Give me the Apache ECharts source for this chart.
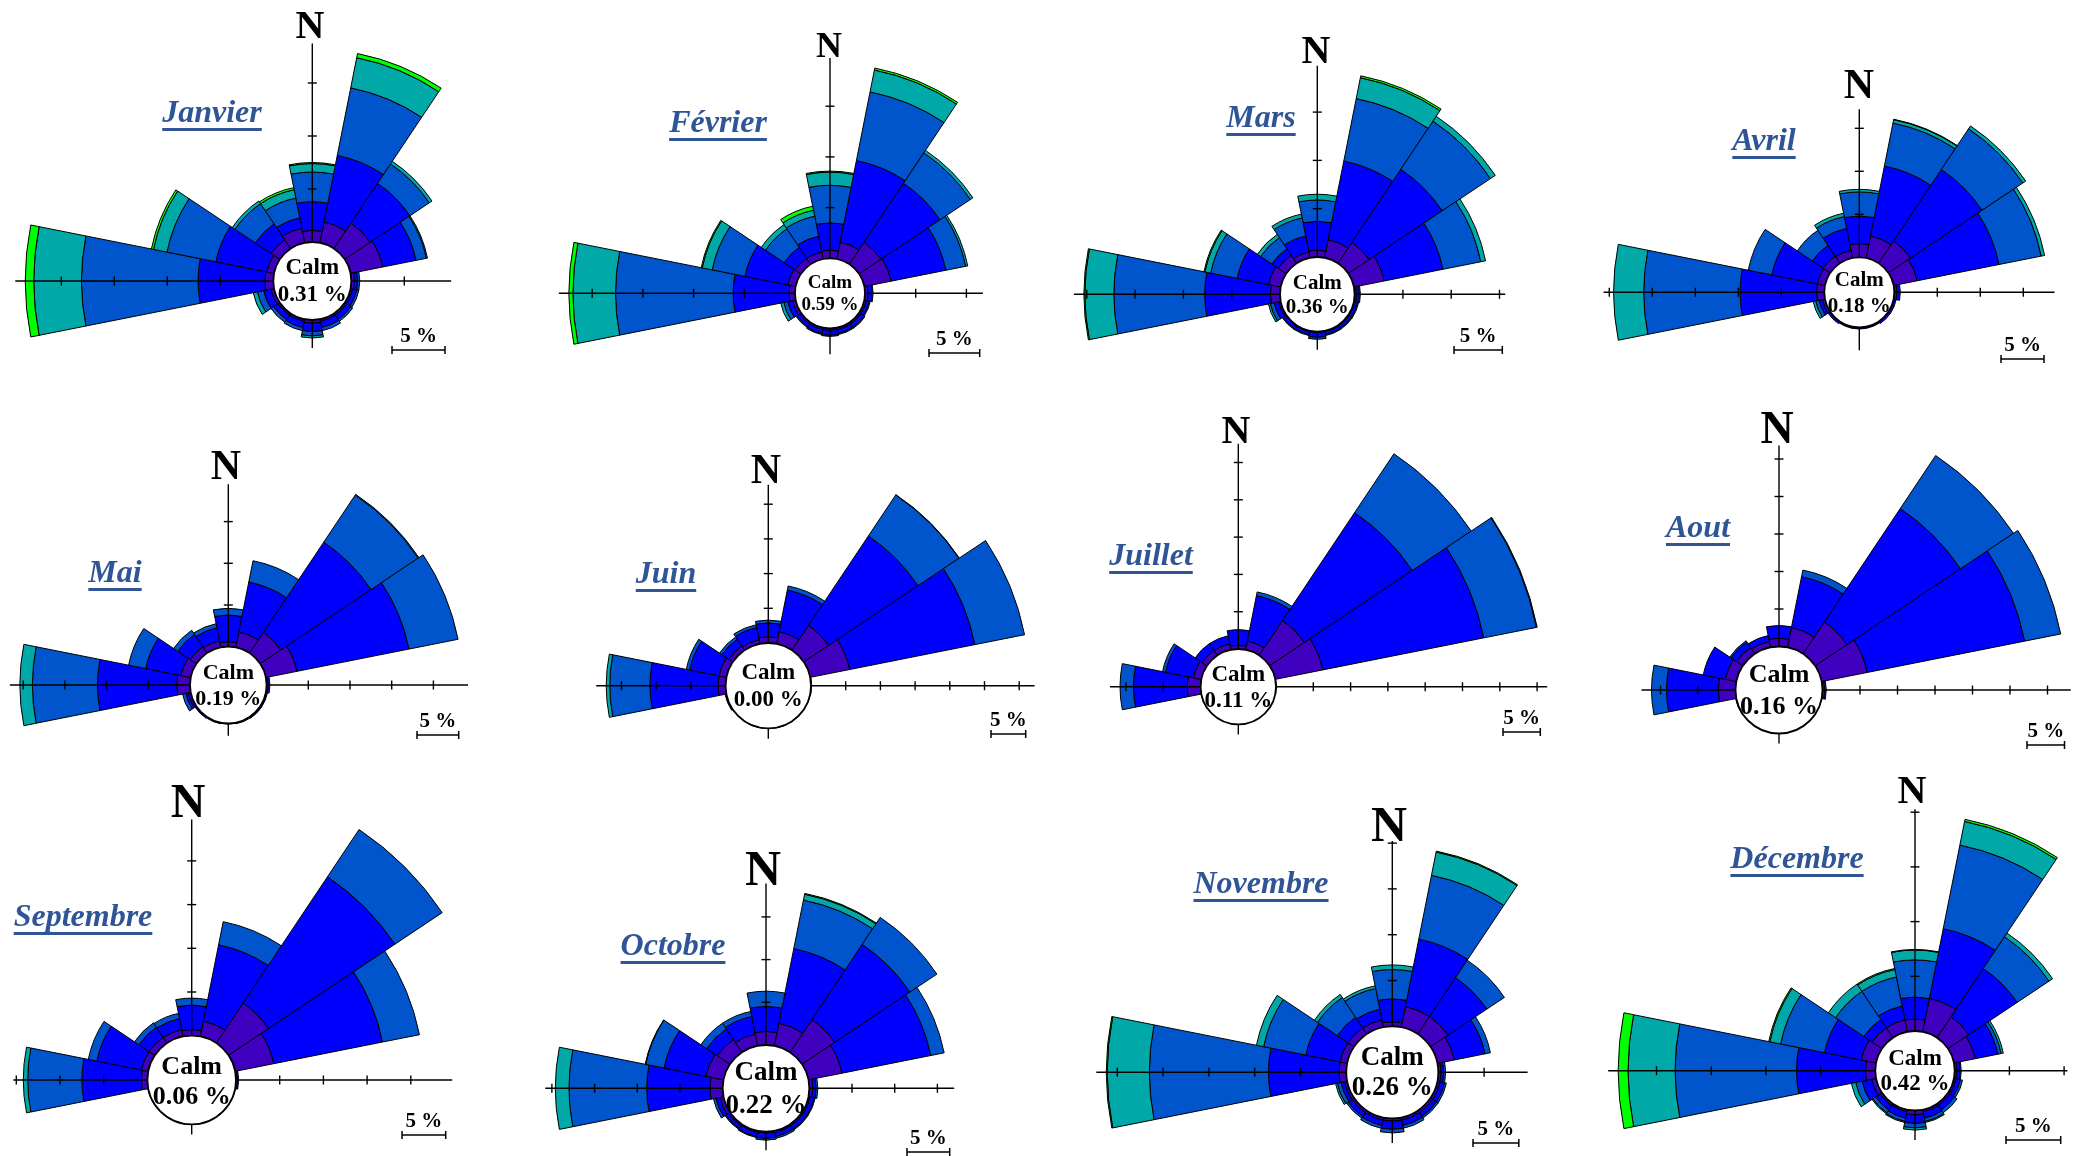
<!DOCTYPE html>
<html>
<head>
<meta charset="utf-8">
<script src="https://cdn.jsdelivr.net/npm/echarts@6/dist/echarts.min.js"></script>
<style>
  html, body { margin: 0; padding: 0; background: #fff; }
  #chart { width: 2089px; height: 1156px; }
</style>
</head>
<body>
<div id="chart"></div>
<script>
// Wind direction sectors (16 x 22.5°), clockwise from north
const directions = ['N', 'NNE', 'NE', 'ENE', 'E', 'ESE', 'SE', 'SSE', 'S', 'SSW', 'SW', 'WSW', 'W', 'WNW', 'NW', 'NNW'];
// Wind speed classes, innermost first
const speedClasses = ['Classe 1', 'Classe 2', 'Classe 3', 'Classe 4', 'Classe 5'];
const months = ['Janvier', 'Février', 'Mars', 'Avril', 'Mai', 'Juin', 'Juillet', 'Aout', 'Septembre', 'Octobre', 'Novembre', 'Décembre'];
// Calm frequency (%) per month
const calm = [0.31, 0.59, 0.36, 0.18, 0.19, 0.00, 0.11, 0.16, 0.06, 0.22, 0.26, 0.42];
// Radial tick spacing (%)
const tickStep = 5;

// Frequency (%) per direction, split by speed class
const janvier = [
  [1.1, 2.7, 2.8, 0.8, 0.1], [2.0, 6.4, 6.5, 2.9, 0.4], [2.9, 4.5, 2.2, 0.3, 0], [3.1, 3.2, 1.0, 0.1, 0],
  [0.3, 0.3, 0.2, 0, 0], [0.2, 0.4, 0.2, 0, 0], [0.2, 0.5, 0.2, 0, 0], [0.2, 0.6, 0.3, 0, 0],
  [0.3, 0.8, 0.4, 0.2, 0], [0.2, 0.6, 0.3, 0, 0], [0.2, 0.5, 0.3, 0, 0], [0.3, 0.7, 0.6, 0.4, 0],
  [0.8, 6.3, 11.0, 4.5, 0.8], [0.7, 4.9, 4.7, 1.3, 0.2], [1.0, 1.8, 2.3, 0.3, 0], [1.4, 1.0, 1.9, 0.8, 0.2]
];
const fevrier = [
  [0.8, 2.7, 3.7, 1.3, 0.1], [1.7, 8.2, 6.9, 2.2, 0.2], [2.6, 7.0, 3.6, 0.3, 0], [2.7, 5.5, 2.0, 0.2, 0],
  [0.3, 0.4, 0.1, 0, 0], [0.2, 0.3, 0.1, 0, 0], [0.2, 0.4, 0.1, 0, 0], [0.2, 0.4, 0.1, 0, 0],
  [0.2, 0.5, 0.1, 0, 0], [0.2, 0.4, 0.1, 0, 0], [0.2, 0.3, 0.1, 0, 0], [0.3, 0.5, 0.4, 0.3, 0],
  [0.6, 5.5, 11.6, 4.2, 0.4], [0.8, 4.3, 3.3, 1.0, 0.1], [0.7, 1.3, 2.2, 0.5, 0], [0.7, 1.6, 2.0, 0.6, 0.4]
];
const mars = [
  [0.7, 3.0, 2.2, 0.6, 0], [1.9, 8.3, 6.6, 2.2, 0.2], [2.6, 9.1, 6.0, 0.6, 0], [3.2, 6.2, 4.0, 0.5, 0],
  [0.2, 0.3, 0.1, 0, 0], [0.1, 0.3, 0.1, 0, 0], [0.1, 0.3, 0.1, 0, 0], [0.1, 0.3, 0.1, 0, 0],
  [0.1, 0.5, 0.2, 0, 0], [0.1, 0.3, 0.1, 0, 0], [0.1, 0.3, 0.1, 0, 0], [0.2, 0.5, 0.4, 0.2, 0],
  [1.0, 6.8, 9.4, 3.0, 0.1], [1.3, 3.3, 2.8, 0.6, 0.1], [1.0, 0.8, 1.4, 0.4, 0], [0.6, 1.7, 1.9, 0.4, 0]
];
const avril = [
  [1.6, 3.2, 2.8, 0.3, 0], [2.6, 8.3, 5.1, 0.4, 0.05], [3.1, 10.0, 5.7, 0.4, 0], [2.8, 9.7, 5.0, 0.4, 0],
  [0.3, 0.4, 0, 0, 0], [0.1, 0.2, 0, 0, 0], [0.1, 0.2, 0, 0, 0], [0.1, 0.1, 0, 0, 0],
  [0.1, 0.1, 0, 0, 0], [0.1, 0.1, 0, 0, 0], [0.1, 0.2, 0, 0, 0], [0.3, 0.4, 0.4, 0.3, 0],
  [0.9, 8.9, 11.2, 3.5, 0], [0.9, 5.4, 2.8, 0, 0], [1.0, 1.5, 2.1, 0, 0], [0.9, 2.6, 1.4, 0.4, 0]
];
const mai = [
  [0.6, 3.2, 0.8, 0, 0], [1.9, 6.1, 2.6, 0, 0], [3.0, 13.0, 6.8, 0.1, 0], [3.8, 13.7, 6.0, 0, 0],
  [0.2, 0.2, 0, 0, 0], [0.1, 0.1, 0, 0, 0], [0.1, 0.1, 0, 0, 0], [0.05, 0.1, 0, 0, 0],
  [0.05, 0.05, 0, 0, 0], [0.05, 0.1, 0, 0, 0], [0.1, 0.1, 0, 0, 0], [0.3, 0.3, 0.4, 0, 0],
  [1.6, 9.5, 7.8, 1.5, 0], [1.2, 4.3, 2.1, 0, 0], [0.9, 1.8, 0.6, 0, 0], [0.8, 1.6, 0.5, 0, 0]
];
const juin = [
  [0.9, 2.0, 0.4, 0, 0], [1.8, 6.1, 0.6, 0, 0], [4.3, 15.5, 7.1, 0.05, 0], [5.8, 18.4, 7.3, 0, 0],
  [0.1, 0, 0, 0, 0], [0.05, 0, 0, 0, 0], [0.05, 0, 0, 0, 0], [0.05, 0, 0, 0, 0],
  [0.05, 0, 0, 0, 0], [0.05, 0, 0, 0, 0], [0.05, 0, 0, 0, 0], [0.1, 0.1, 0, 0, 0],
  [1.1, 9.8, 5.8, 0.5, 0], [1.1, 4.3, 0.5, 0, 0], [0.7, 1.2, 0.4, 0, 0], [0.6, 1.8, 0.4, 0, 0]
];
const juillet = [
  [0.5, 2.1, 0, 0, 0], [1.2, 6.2, 0.5, 0, 0], [5.6, 17.4, 9.5, 0, 0], [6.5, 22.0, 7.2, 0.1, 0],
  [0.05, 0, 0, 0, 0], [0, 0, 0, 0, 0], [0, 0, 0, 0, 0], [0, 0, 0, 0, 0],
  [0, 0, 0, 0, 0], [0, 0, 0, 0, 0], [0, 0, 0, 0, 0], [0.05, 0, 0, 0, 0],
  [1.8, 7.2, 1.8, 0, 0], [1.1, 3.8, 0.4, 0, 0], [0.8, 1.1, 0, 0, 0], [0.8, 1.1, 0, 0, 0]
];
const aout = [
  [1.1, 1.7, 0, 0, 0], [2.7, 6.9, 0.9, 0, 0], [5.1, 18.2, 8.5, 0, 0], [6.2, 21.4, 4.9, 0, 0],
  [0.3, 0.2, 0, 0, 0], [0, 0, 0, 0, 0], [0, 0, 0, 0, 0], [0, 0, 0, 0, 0],
  [0, 0, 0, 0, 0], [0, 0, 0, 0, 0], [0, 0, 0, 0, 0], [0.1, 0, 0, 0, 0],
  [2.3, 6.9, 2.0, 0, 0], [1.5, 3.0, 0, 0, 0], [1.0, 0.9, 0.2, 0, 0], [0.8, 0.8, 0, 0, 0]
];
const septembre = [
  [0.7, 2.8, 0.8, 0, 0], [1.8, 8.9, 2.7, 0, 0], [5.5, 17.4, 6.5, 0, 0], [4.5, 12.7, 4.3, 0, 0],
  [0.2, 0.1, 0, 0, 0], [0.03, 0, 0, 0, 0], [0.03, 0, 0, 0, 0], [0.03, 0, 0, 0, 0],
  [0.03, 0, 0, 0, 0], [0.03, 0, 0, 0, 0], [0.03, 0, 0, 0, 0], [0.05, 0, 0, 0, 0],
  [0.7, 6.8, 6.2, 0.5, 0], [0.8, 5.2, 1.0, 0, 0], [0.8, 1.4, 0.6, 0, 0], [0.8, 1.3, 0.6, 0, 0]
];
const octobre = [
  [1.6, 2.9, 1.8, 0, 0], [2.7, 8.9, 5.8, 0.7, 0.1], [4.6, 10.6, 3.8, 0, 0], [4.0, 10.6, 1.6, 0, 0],
  [0.4, 0.4, 0.2, 0, 0], [0.2, 0.5, 0.1, 0, 0], [0.2, 0.5, 0.1, 0, 0], [0.2, 0.5, 0.2, 0, 0],
  [0.2, 0.6, 0.2, 0, 0], [0.2, 0.5, 0.1, 0, 0], [0.2, 0.4, 0.1, 0, 0], [0.4, 0.5, 0.3, 0, 0],
  [1.5, 7.4, 9.1, 1.6, 0], [2.1, 5.0, 2.2, 0.05, 0], [1.8, 1.5, 0.8, 0, 0], [1.4, 2.1, 0.6, 0, 0]
];
const novembre = [
  [0.5, 2.5, 3.2, 0.5, 0], [2.3, 7.5, 7.1, 2.6, 0.1], [2.3, 5.1, 2.3, 0, 0], [1.9, 3.4, 0.6, 0, 0],
  [0.3, 0.3, 0.2, 0, 0], [0.3, 0.5, 0.2, 0, 0], [0.3, 0.5, 0.2, 0, 0], [0.3, 0.6, 0.3, 0, 0],
  [0.3, 0.9, 0.4, 0, 0], [0.3, 0.6, 0.3, 0, 0], [0.3, 0.5, 0.2, 0, 0], [0.3, 0.4, 0.4, 0.2, 0],
  [0.8, 7.7, 13.0, 4.6, 0.1], [0.8, 3.8, 4.7, 0.8, 0], [0.8, 1.4, 2.6, 0.4, 0], [0.8, 1.2, 2.3, 0.3, 0]
];
const decembre = [
  [1.1, 2.0, 3.4, 0.9, 0.05], [3.1, 6.5, 7.8, 2.2, 0.2], [2.3, 5.3, 3.5, 0.4, 0], [2.0, 2.1, 0.3, 0.2, 0],
  [0.2, 0.3, 0.1, 0, 0], [0.2, 0.4, 0.2, 0, 0], [0.2, 0.5, 0.3, 0, 0], [0.2, 0.6, 0.3, 0.1, 0],
  [0.4, 0.8, 0.4, 0.2, 0], [0.2, 0.6, 0.3, 0.1, 0], [0.2, 0.5, 0.3, 0.1, 0], [0.4, 0.9, 0.6, 0.4, 0],
  [0.9, 6.3, 11.1, 4.3, 0.9], [1.4, 3.4, 4.1, 1.0, 0.1], [1.1, 0.9, 3.1, 0.8, 0], [1.1, 1.3, 2.7, 0.7, 0.1]
];
const monthlyRoses = [janvier, fevrier, mars, avril, mai, juin, juillet, aout, septembre, octobre, novembre, decembre];

// ---- styling ----
const speedColors = ['#4000C0', '#0000FF', '#0055CC', '#00A8A8', '#00FF00'];
const SERIF = '"Liberation Serif", "Times New Roman", serif';
const titleColor = '#2F5597';

// Panel layout: rose centre, calm-circle radius, pixels per 5 %, and text placement
const layout = [
  { c: [312.3, 281.0], r0: 39.0, k5: 53.0, title: [212, 114], n: [310, 28, 40], calmFont: 23, calmDy: [-13, 14], bar: [392, 350] },
  { c: [830.0, 293.3], r0: 35.0, k5: 50.7, title: [718, 124], n: [829, 48, 36], calmFont: 19, calmDy: [-10, 12], bar: [929, 353] },
  { c: [1317.3, 294.3], r0: 37.3, k5: 48.3, title: [1261, 119], n: [1316, 53, 40], calmFont: 21, calmDy: [-11, 13], bar: [1454, 350] },
  { c: [1859.3, 292.3], r0: 35.0, k5: 43.0, title: [1764, 142], n: [1859, 87, 42], calmFont: 21, calmDy: [-12, 14], bar: [2001, 359] },
  { c: [228.3, 685.0], r0: 38.3, k5: 41.7, title: [115, 574], n: [226, 468, 42], calmFont: 22, calmDy: [-12, 14], bar: [417, 735] },
  { c: [768.3, 685.7], r0: 42.7, k5: 34.7, title: [666, 575], n: [766, 472, 42], calmFont: 23, calmDy: [-13, 14], bar: [991, 734] },
  { c: [1238.3, 686.7], r0: 37.7, k5: 37.3, title: [1151, 557], n: [1236, 433, 40], calmFont: 23, calmDy: [-12, 14], bar: [1503, 732] },
  { c: [1779.0, 690.0], r0: 43.5, k5: 37.5, title: [1698, 529], n: [1777, 431, 46], calmFont: 26, calmDy: [-15, 17], bar: [2027, 745] },
  { c: [191.7, 1080.0], r0: 44.3, k5: 43.7, title: [83, 918], n: [188, 805, 48], calmFont: 26, calmDy: [-13, 17], bar: [402, 1135] },
  { c: [766.0, 1088.3], r0: 43.3, k5: 42.7, title: [673, 947], n: [763, 872, 50], calmFont: 27, calmDy: [-15, 18], bar: [907, 1152] },
  { c: [1392.3, 1072.3], r0: 46.0, k5: 45.8, title: [1261, 885], n: [1389, 828, 50], calmFont: 27, calmDy: [-14, 16], bar: [1473, 1143] },
  { c: [1915.0, 1070.7], r0: 39.7, k5: 54.7, title: [1797, 860], n: [1912, 793, 40], calmFont: 23, calmDy: [-12, 13], bar: [2006, 1140] }
];

const RADIUS_MAX = 40; // radius-axis extent (%) mapped onto each polar

const measureCtx = document.createElement('canvas').getContext('2d');
function textWidth(str, font) { measureCtx.font = font; return measureCtx.measureText(str).width; }

// Cross-shaped axes with 5 % ticks, calm circle and calm label, drawn on the polar system
function makeAxisRenderer(rows, calmValue, lay) {
  return function (params, api) {
    const pN = api.coord([0, 0]);
    const pS = api.coord([0, 8]);
    const cx = (pN[0] + pS[0]) / 2, cy = (pN[1] + pS[1]) / 2;
    const r0 = Math.hypot(pN[0] - cx, pN[1] - cy);
    const p1 = api.coord([1, 0]);
    const k = Math.hypot(p1[0] - cx, p1[1] - cy) - r0;

    // bounding extent of the rose in the four compass directions: up, right, down, left
    const ext = [r0, r0, r0, r0];
    rows.forEach(function (row, i) {
      const total = row.reduce(function (s, v) { return s + v; }, 0);
      if (total <= 0) return;
      const R = r0 + total * k;
      const a1 = i * 22.5 - 11.25, a2 = i * 22.5 + 11.25;
      for (let d = 0; d < 4; d++) {
        const th = d * 90;
        const wrap = function (x) { return ((x - th) % 360 + 540) % 360 - 180; };
        const d1 = wrap(a1), d2 = wrap(a2);
        let reach;
        if (d1 <= 0 && d2 >= 0) reach = R;
        else reach = R * Math.max(Math.cos(d1 * Math.PI / 180), Math.cos(d2 * Math.PI / 180));
        if (reach > ext[d]) ext[d] = reach;
      }
    });

    const m = 10;
    const lineStyle = { stroke: '#000', lineWidth: 1.4 };
    const children = [];
    children.push({ type: 'line', shape: { x1: cx, y1: cy - ext[0] - m, x2: cx, y2: cy + ext[2] + m }, style: lineStyle });
    children.push({ type: 'line', shape: { x1: cx - ext[3] - m, y1: cy, x2: cx + ext[1] + m, y2: cy }, style: lineStyle });
    const unit = [[0, -1], [1, 0], [0, 1], [-1, 0]];
    for (let d = 0; d < 4; d++) {
      const ux = unit[d][0], uy = unit[d][1];
      for (let v = tickStep; r0 + v * k <= ext[d] + m + 0.5; v += tickStep) {
        const pt = api.coord([v, d * 4]);
        const r = Math.hypot(pt[0] - cx, pt[1] - cy);
        const px = cx + ux * r, py = cy + uy * r;
        children.push({ type: 'line', shape: { x1: px - uy * 4.5, y1: py + ux * 4.5, x2: px + uy * 4.5, y2: py - ux * 4.5 }, style: lineStyle });
      }
    }
    children.push({ type: 'circle', shape: { cx: cx, cy: cy, r: r0 }, style: { fill: '#fff', stroke: '#000', lineWidth: 1.8 } });
    const f = 'bold ' + lay.calmFont + 'px ' + SERIF;
    children.push({ type: 'text', x: cx, y: cy + lay.calmDy[0], style: { text: 'Calm', font: f, fill: '#000', align: 'center', verticalAlign: 'middle' } });
    children.push({ type: 'text', x: cx, y: cy + lay.calmDy[1], style: { text: calmValue.toFixed(2) + ' %', font: f, fill: '#000', align: 'center', verticalAlign: 'middle' } });
    return { type: 'group', children: children };
  };
}

const polar = [], angleAxis = [], radiusAxis = [], series = [], graphic = [];

monthlyRoses.forEach(function (rows, p) {
  const lay = layout[p];
  const k1 = lay.k5 / 5;
  polar.push({ center: lay.c, radius: [lay.r0, lay.r0 + RADIUS_MAX * k1] });
  angleAxis.push({
    polarIndex: p, type: 'category', data: directions, startAngle: 90 + 11.25, clockwise: true,
    axisLine: { show: false }, axisTick: { show: false }, axisLabel: { show: false }, splitLine: { show: false }
  });
  radiusAxis.push({
    polarIndex: p, type: 'value', min: 0, max: RADIUS_MAX,
    axisLine: { show: false }, axisTick: { show: false }, axisLabel: { show: false }, splitLine: { show: false }
  });
  speedClasses.forEach(function (name, s) {
    series.push({
      type: 'bar', name: name, coordinateSystem: 'polar', polarIndex: p, stack: 'rose' + p,
      barCategoryGap: '0%', silent: true, z: 2, animation: false,
      data: rows.map(function (r) { return r[s] > 0 ? r[s] : '-'; }),
      itemStyle: { color: speedColors[s], borderColor: '#000', borderWidth: 1 }
    });
  });
  series.push({
    type: 'custom', coordinateSystem: 'polar', polarIndex: p, z: 10, silent: true, animation: false,
    data: [[0, 0]],
    renderItem: makeAxisRenderer(rows, calm[p], lay)
  });

  // month title with underline
  const tFont = 'italic bold 32px ' + SERIF;
  const tw = textWidth(months[p], tFont);
  graphic.push({ type: 'text', x: lay.title[0], y: lay.title[1], z: 20,
    style: { text: months[p], font: tFont, fill: titleColor, align: 'center', verticalAlign: 'middle' } });
  graphic.push({ type: 'rect', z: 20, shape: { x: lay.title[0] - tw / 2, y: lay.title[1] + 14, width: tw, height: 3 },
    style: { fill: titleColor } });

  // north marker
  graphic.push({ type: 'text', x: lay.n[0], y: lay.n[1], z: 20,
    style: { text: 'N', font: 'bold ' + lay.n[2] + 'px ' + SERIF, fill: '#000', align: 'center', verticalAlign: 'middle' } });

  // 5 % scale bar
  const bx = lay.bar[0], by = lay.bar[1], bw = lay.k5;
  graphic.push({ type: 'polyline', z: 20, shape: { points: [[bx, by], [bx + bw, by]] }, style: { stroke: '#000', lineWidth: 1.5, fill: null } });
  graphic.push({ type: 'line', z: 20, shape: { x1: bx, y1: by - 4, x2: bx, y2: by + 4 }, style: { stroke: '#000', lineWidth: 1.5 } });
  graphic.push({ type: 'line', z: 20, shape: { x1: bx + bw, y1: by - 4, x2: bx + bw, y2: by + 4 }, style: { stroke: '#000', lineWidth: 1.5 } });
  graphic.push({ type: 'text', x: bx + bw / 2, y: by - 13, z: 20,
    style: { text: tickStep + ' %', font: 'bold 21px ' + SERIF, fill: '#000', align: 'center', verticalAlign: 'middle' } });
});

const chart = echarts.init(document.getElementById('chart'), null, { renderer: 'canvas' });
chart.setOption({
  backgroundColor: '#fff',
  animation: false,
  polar: polar,
  angleAxis: angleAxis,
  radiusAxis: radiusAxis,
  series: series,
  graphic: graphic
});
</script>
</body>
</html>
